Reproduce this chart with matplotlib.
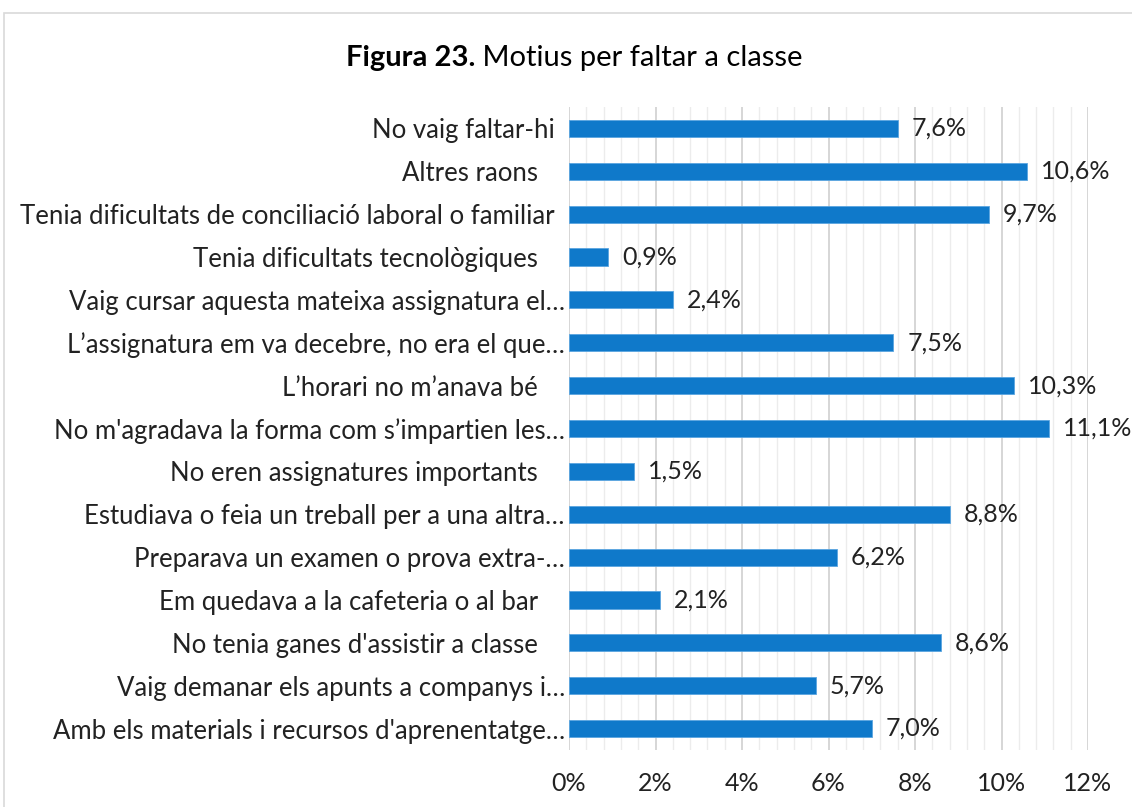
"""Figura 23 -- motius per faltar a classe (horizontal bar chart)."""
import matplotlib
matplotlib.use("Agg")
import matplotlib.pyplot as plt
from matplotlib.patches import Rectangle
from matplotlib.ticker import MultipleLocator, FuncFormatter
from matplotlib.transforms import ScaledTranslation

CATEGORIES = [
    "No vaig faltar-hi",
    "Altres raons ",
    "Tenia dificultats de conciliació laboral o familiar",
    "Tenia dificultats tecnològiques ",
    "Vaig cursar aquesta mateixa assignatura el…",
    "L\u2019assignatura em va decebre, no era el que…",
    "L\u2019horari no m\u2019anava bé ",
    "No m'agradava la forma com s\u2019impartien les…",
    "No eren assignatures importants ",
    "Estudiava o feia un treball per a una altra…",
    "Preparava un examen o prova extra-…",
    "Em quedava a la cafeteria o al bar ",
    "No tenia ganes d'assistir a classe ",
    "Vaig demanar els apunts a companys i…",
    "Amb els materials i recursos d'aprenentatge…",
]
VALUES = [7.6, 10.6, 9.7, 0.9, 2.4, 7.5, 10.3, 11.1, 1.5, 8.8, 6.2, 2.1, 8.6, 5.7, 7.0]
XTICKS = [0, 2, 4, 6, 8, 10, 12]

FONT = "Lato"
FS = 18
BLUE = "#0F79CA"

plt.rcParams["font.family"] = [FONT, "DejaVu Sans"]

fig = plt.figure(figsize=(11.32, 8.07), dpi=100)
ax = fig.add_axes([569 / 1132, 1 - 750 / 807, (1088 - 569) / 1132, (750 - 107) / 807])

ypos = list(range(len(CATEGORIES)))
ax.barh(ypos, VALUES, height=0.4, color=BLUE, edgecolor="#5AA5E0", linewidth=0.6, zorder=3)
for y, v in zip(ypos, VALUES):
    ax.annotate(f"{v:.1f}%".replace(".", ","), (v, y), xytext=(10, 0),
                textcoords="offset points", va="center", ha="left", fontsize=FS,
                color="#222222")

ax.set_ylim(len(CATEGORIES) - 0.5, -0.5)
ax.set_xlim(0, 12)
ax.set_yticks(ypos)
ax.set_yticklabels([c.rstrip() for c in CATEGORIES], fontsize=18.5, color="#222222")
ax.set_xticks(XTICKS)
ax.xaxis.set_major_formatter(FuncFormatter(lambda x, _: f"{x:.0f}%"))
ax.xaxis.set_minor_locator(MultipleLocator(0.4))
ax.tick_params(axis="both", which="both", length=0, colors="#222222")
ax.tick_params(axis="x", pad=16, labelsize=FS)
ax.tick_params(axis="y", pad=3)
# Excel leaves a wider gap after labels that end in a space, a small one after plain ones
for lab, cat in zip(ax.get_yticklabels(), CATEGORIES):
    if cat.endswith(" "):
        dx = 27
    elif cat.endswith("…"):
        dx = 0
    else:
        dx = 10
    lab.set_transform(lab.get_transform() + ScaledTranslation(-dx / 100, 0, fig.dpi_scale_trans))
ax.grid(axis="x", which="major", color="#D0D0D0", linewidth=1.2, zorder=0)
ax.grid(axis="x", which="minor", color="#ECECEC", linewidth=1.0, zorder=0)
for s in ax.spines.values():
    s.set_visible(False)

# title: bold "Figura 23." followed by regular text, centred as a whole
t1 = fig.text(0, 1 - 58 / 807, "Figura 23.", fontsize=21, fontweight="bold",
              va="center", ha="left")
t2 = fig.text(0, 1 - 58 / 807, " Motius per faltar a classe", fontsize=21,
              va="center", ha="left")
fig.canvas.draw()
r = fig.canvas.get_renderer()
w1 = t1.get_window_extent(r).width
w2 = t2.get_window_extent(r).width
x0 = 574 - (w1 + w2) / 2
t1.set_x(x0 / 1132)
t2.set_x((x0 + w1) / 1132)

# chart frame
fig.patches.append(Rectangle((4 / 1132, -0.05), 1.1, 1 - 13 / 807 + 0.05,
                             transform=fig.transFigure, fill=False,
                             edgecolor="#D9D9D9", linewidth=1.2))

fig.savefig("out.png", dpi=100)
